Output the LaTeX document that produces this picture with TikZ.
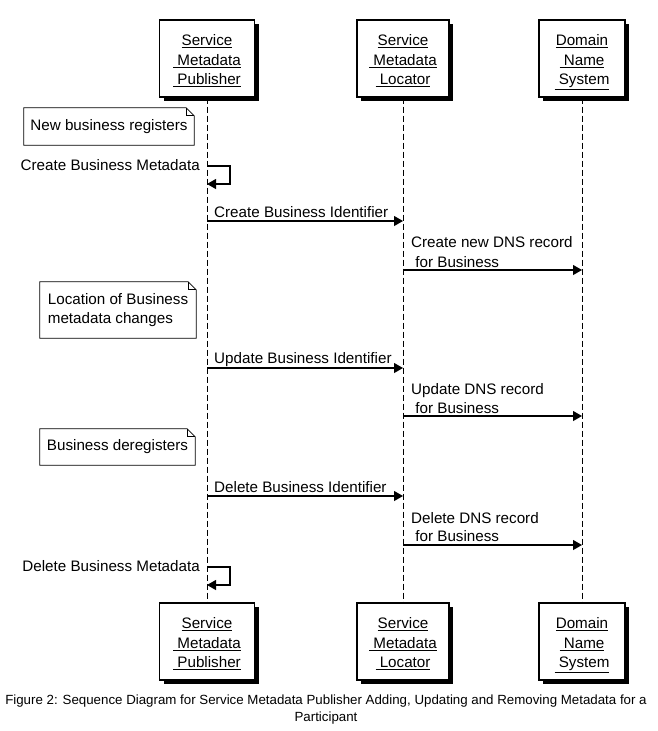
\documentclass[tikz,border=0pt]{standalone}
\usepackage{fontspec}
\setmainfont{Liberation Sans}
\usetikzlibrary{shadows,arrows.meta}
\newcommand{\actortext}[3]{\raisebox{-3pt}[\height][\depth]{\begin{tabular}{@{}c@{}}\underline{#1}\\[0.6pt]\underline{\ #2}\\[0.6pt]\underline{\ #3}\end{tabular}}}
\begin{document}
\begin{tikzpicture}[x=1pt,y=-1pt,
  txt/.style={font=\fontsize{15.2}{19}\selectfont},
  lbl/.style={txt, inner sep=0pt, anchor=base west},
  actor/.style={txt, draw, line width=1.3pt, fill=white, minimum height=77pt, align=center, inner sep=0pt,
    drop shadow={shadow xshift=4pt, shadow yshift=-4pt, fill=black, opacity=1}},
  life/.style={dash pattern=on 6pt off 3pt, line width=0.9pt},
  msg/.style={line width=1.1pt, -{Triangle[length=9pt,width=10pt]}},
  notebox/.style={txt, inner sep=0pt, align=left},
  noteline/.style={line width=0.8pt}
]
\useasboundingbox (0,0) rectangle (657,731);

% lifeline boxes
\node[actor, minimum width=95pt] (smpT) at (207,58.5) {\actortext{Service}{Metadata}{Publisher}};
\node[actor, minimum width=92pt] (smlT) at (403,58.5) {\actortext{Service}{Metadata}{Locator}};
\node[actor, minimum width=86pt] (dnsT) at (582,58.5) {\actortext{Domain}{Name}{System}};
\node[actor, minimum width=95pt] (smpB) at (207,641.5) {\actortext{Service}{Metadata}{Publisher}};
\node[actor, minimum width=92pt] (smlB) at (403,641.5) {\actortext{Service}{Metadata}{Locator}};
\node[actor, minimum width=86pt] (dnsB) at (582,641.5) {\actortext{Domain}{Name}{System}};

% lifelines
\draw[life] (smpT.south) -- (smpB.north);
\draw[life] (smlT.south) -- (smlB.north);
\draw[life] (dnsT.south) -- (dnsB.north);

% notes
\node[notebox, minimum width=170pt, minimum height=37pt] (n1) at (109,126.5) {New business registers};
\node[notebox, minimum width=156pt, minimum height=56pt] (n2) at (118,310) {Location of Business\\metadata changes};
\node[notebox, minimum width=155pt, minimum height=36pt] (n3) at (117.5,447) {Business deregisters};
\foreach \n in {n1,n2,n3}{
  \draw[noteline] (\n.north west) -- ([xshift=-8pt]\n.north east) -- ([yshift=-8pt]\n.north east)
    -- (\n.south east) -- (\n.south west) -- cycle;
  \draw[noteline] ([xshift=-8pt]\n.north east) -- ([xshift=-8pt,yshift=-8pt]\n.north east) -- ([yshift=-8pt]\n.north east);
}

% self call: create
\node[txt, inner sep=0pt, anchor=base east] (m0) at (200,170) {Create Business Metadata};
\draw[msg] (smpT.south |- 0,166) -- ++(23,0) -- ++(0,18) -- (smpT.south |- 0,184);

% create identifier
\node[lbl] (m1) at (214,217) {Create Business Identifier};
\draw[msg] (smpT.south |- 0,221) -- (smlT.south |- 0,221);

\node[lbl] (m2a) at (411,247) {Create new DNS record};
\node[lbl] (m2b) at (411,267) {\ for Business};
\draw[msg] (smlT.south |- 0,270) -- (dnsT.south |- 0,270);

% update
\node[lbl] (m3) at (214,363) {Update Business Identifier};
\draw[msg] (smpT.south |- 0,368) -- (smlT.south |- 0,368);

\node[lbl] (m4a) at (411,394) {Update DNS record};
\node[lbl] (m4b) at (411,413) {\ for Business};
\draw[msg] (smlT.south |- 0,416) -- (dnsT.south |- 0,416);

% delete
\node[lbl] (m5) at (214,492) {Delete Business Identifier};
\draw[msg] (smpT.south |- 0,496) -- (smlT.south |- 0,496);

\node[lbl] (m6a) at (411,523) {Delete DNS record};
\node[lbl] (m6b) at (411,541) {\ for Business};
\draw[msg] (smlT.south |- 0,545) -- (dnsT.south |- 0,545);

% self call: delete
\node[txt, inner sep=0pt, anchor=base east] (m7) at (200,571) {Delete Business Metadata};
\draw[msg] (smpT.south |- 0,567) -- ++(23,0) -- ++(0,18) -- (smpT.south |- 0,585);

% caption
\node[font=\fontsize{13.3}{17}\selectfont, inner sep=0pt, anchor=base] (cap1) at (326,704) {Figure 2: Sequence Diagram for Service Metadata Publisher Adding, Updating and Removing Metadata for a};
\node[font=\fontsize{13.3}{17}\selectfont, inner sep=0pt, anchor=base] (cap2) at (326,721) {Participant};
\end{tikzpicture}
\end{document}
